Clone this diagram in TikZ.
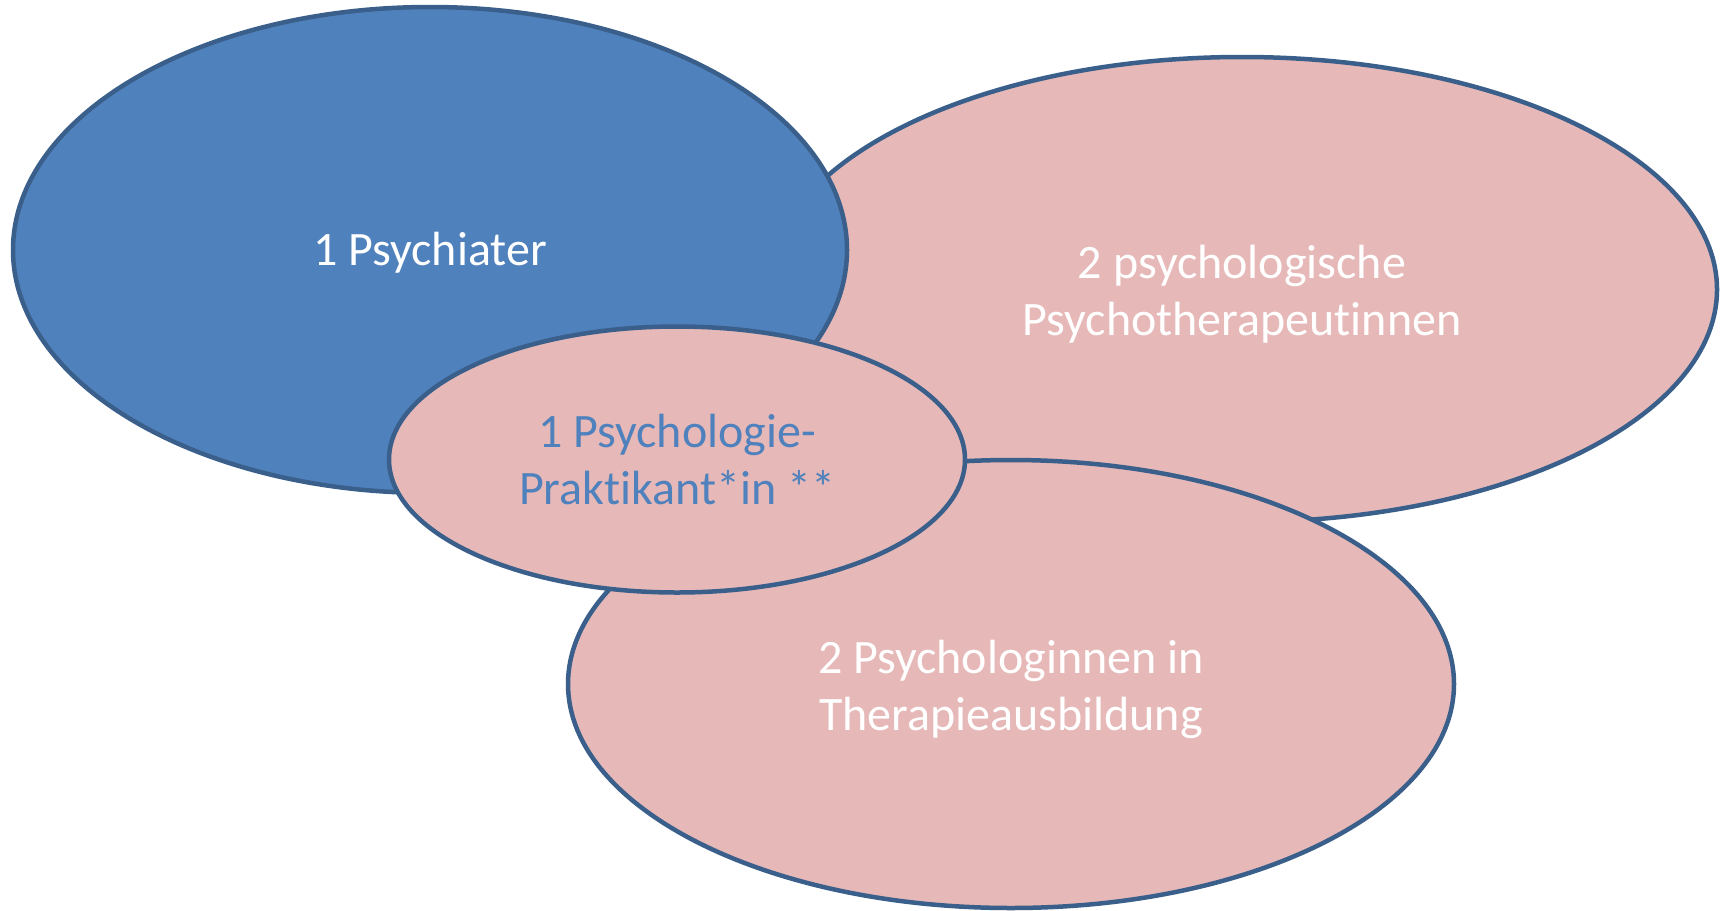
\documentclass[tikz,border=0pt]{standalone}
\usepackage{fontspec}
\setmainfont[Ligatures={NoCommon}]{Carlito}
\usetikzlibrary{shapes.geometric}
\definecolor{fillblue}{HTML}{4F81BD}
\definecolor{fillpink}{HTML}{E6B9B8}
\definecolor{edgeblue}{HTML}{3A5F8B}
\tikzset{
  ell/.style={ellipse, draw=edgeblue, line width=4.5pt, inner sep=0pt, outer sep=0pt},
  pinkell/.style={ell, fill=fillpink},
  blueell/.style={ell, fill=fillblue},
  lbl/.style={align=center, inner sep=0pt, text=white, font=\fontsize{48}{57}\selectfont},
}
\begin{document}
\begin{tikzpicture}[x=1pt,y=-1pt]
\useasboundingbox (0,0) rectangle (1723,910);
\node[pinkell, minimum width=950pt, minimum height=465pt] (ther) at (1242,289.5) {};
\node[lbl] (therT) at ([yshift=-5pt]ther.center) {2 psychologische\\Psychotherapeutinnen};
\node[blueell, minimum width=834pt, minimum height=486pt] (psy) at (430,250) {};
\node[lbl] (psyT) at ([yshift=-3pt]psy.center) {1 Psychiater};
\node[pinkell, minimum width=886pt, minimum height=448pt] (ausb) at (1011,684) {};
\node[lbl] (ausbT) at ([yshift=-5pt]ausb.center) {2 Psychologinnen in\\Therapieausbildung};
\node[pinkell, minimum width=576pt, minimum height=266pt] (prak) at (677,459.5) {};
\node[lbl, text=fillblue] (prakT) at ([yshift=0pt]prak.center) {1 Psychologie-\\Praktikant*in **};
\end{tikzpicture}
\end{document}
